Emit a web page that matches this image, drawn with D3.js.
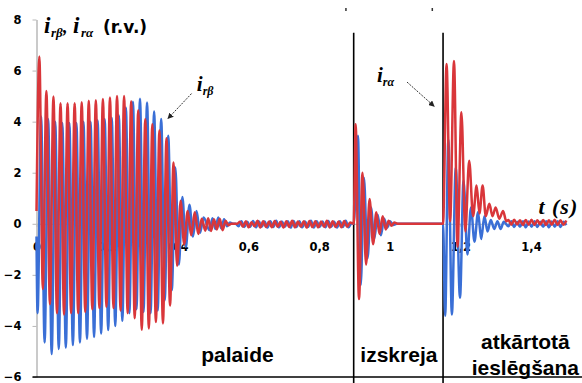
<!DOCTYPE html>
<html>
<head>
<meta charset="utf-8">
<script src="https://cdn.jsdelivr.net/npm/d3@7"></script>
<style>
  body { margin: 0; background: #fff; }
  .axis text { font-family: "DejaVu Sans", sans-serif; font-weight: bold; font-size: 11.5px; fill: #000; }
  .axis path, .axis line { stroke: #b8b8b8; }
  .region { font-family: "Liberation Sans", Arial, sans-serif; font-weight: bold; font-size: 21px; fill: #000; }
  .sym { font-family: "Liberation Serif", serif; font-style: italic; font-weight: bold; fill: #000; }
</style>
</head>
<body>
<div class="chart"></div>
<script>
// tick values
const xTicks = [0, 0.2, 0.4, 0.6, 0.8, 1, 1.2, 1.4];
const yTicks = [-6, -4, -2, 0, 2, 4, 6, 8];

// start-up: half-cycle extremes every 10 ms (red from 0.008 s, blue from 0.003 s)
const redSwing = [6.55, -2.55, 5.2, -3.15, 4.98, -3.5, 4.72, -3.55, 4.72, -3.5, 4.72, -3.5, 4.76, -3.45,
  4.82, -3.35, 4.84, -3.3, 4.89, -3.25, 4.95, -3.3, 5.0, -3.4, 5.0, -3.5, 4.8, -3.7, 4.45, -4.15,
  4.1, -4.1, 3.9, -3.85, 3.65, -3.9, 3.35, -3.2, 2.4, -1.65, 0.9, -0.8, 0.5, -0.45, 0.45, -0.4, 0.2, -0.27];
const blueSwing = [-3.5, 4.2, -4.65, 4.1, -5.1, 4.0, -4.9, 3.95, -4.85, 3.95, -4.75, 3.95, -4.65, 4.0,
  -4.5, 4.0, -4.43, 4.05, -4.3, 4.1, -4.16, 4.15, -4.0, 4.25, -3.8, 4.55, -3.5, 4.78, -3.35, 4.9,
  -3.45, 4.75, -3.5, 4.4, -3.4, 4.1, -3.0, 3.45, -2.6, 2.2, -1.6, 1.05, -0.9, 0.75, -0.5, 0.5, -0.35, 0.25];

// steady running ripple, extremes every 8.2 ms
const redRipple = [0.22, -0.28, 0.18, -0.22, 0.2, -0.25, 0.12, -0.06, 0.0, 0.0, 0.0, 0.08, -0.12, 0.1,
  -0.14, 0.06, -0.1, 0.12, -0.15, 0.1, -0.13, 0.09, -0.14, 0.11, -0.12, 0.08, -0.15, 0.1, -0.13, 0.12,
  -0.14, 0.09, -0.12, 0.1, -0.15, 0.11, -0.13, 0.1, -0.14, 0.09, -0.12, 0.12, -0.15, 0.1, -0.13, 0.09,
  -0.14, 0.11, -0.12, 0.05];
const blueRipple = [-0.25, 0.22, -0.2, 0.25, -0.18, 0.18, -0.1, 0.05, 0.0, 0.0, -0.1, 0.1, -0.13, 0.08,
  -0.12, 0.11, -0.14, 0.1, -0.12, 0.09, -0.15, 0.1, -0.13, 0.12, -0.14, 0.09, -0.12, 0.1, -0.15, 0.11,
  -0.13, 0.1, -0.14, 0.09, -0.12, 0.12, -0.15, 0.1, -0.13, 0.09, -0.14, 0.11, -0.12, 0.08, -0.15, 0.1,
  -0.13, 0.12, -0.14, 0.02];

// supply lost at 0.898 s: [t, i]
const redBurst1 = [[0.898, 0], [0.9035, 3.9], [0.913, -2.95], [0.923, 2.0], [0.933, -1.6], [0.943, 0.97],
  [0.953, -0.8], [0.962, 0.45], [0.971, -0.4], [0.98, 0.3], [0.989, -0.22], [0.997, 0.12], [1.005, -0.08],
  [1.013, 0.05], [1.022, 0], [1.151, 0]];
const blueBurst1 = [[0.898, 0], [0.91, 3.45], [0.918, -2.4], [0.927, 1.8], [0.937, -1.35], [0.947, 0.64],
  [0.956, -0.6], [0.966, 0.35], [0.975, -0.45], [0.984, 0.2], [0.993, -0.15], [1.001, 0.1], [1.01, -0.05],
  [1.02, 0], [1.151, 0]];

// reclosing at 1.151 s: [t, i]
const redBurst2 = [[1.161, 6.26], [1.171, 0.1], [1.182, 6.37], [1.192, -0.9], [1.203, 4.37], [1.214, -0.3],
  [1.225, 2.47], [1.236, 0.3], [1.246, 1.5], [1.254, 0.4], [1.263, 1.5], [1.272, 0.3], [1.282, 0.78],
  [1.291, 0.3], [1.3, 0.64], [1.31, 0.2], [1.321, 0.5], [1.33, 0.1]];
const blueBurst2 = [[1.157, -3.6], [1.166, 3.3], [1.176, -3.55], [1.187, 2.2], [1.199, -2.9], [1.209, 1.7],
  [1.22, -1.2], [1.23, 0.64], [1.24, -0.7], [1.25, 0.45], [1.259, -0.6], [1.268, 0.3], [1.277, -0.3],
  [1.286, 0.15], [1.296, -0.2], [1.305, 0.1], [1.314, -0.2], [1.323, 0.08]];

// ripple after reclosing, extremes every 8.2 ms from 1.336 s
const redTail = [0.15, -0.04, 0.16, -0.03, 0.14, -0.05, 0.15, -0.04, 0.16, -0.05, 0.14, -0.03, 0.15,
  -0.05, 0.14, -0.04, 0.16, -0.05, 0.14, -0.04, 0.13];
const blueTail = [-0.1, 0.1, -0.13, 0.08, -0.12, 0.1, -0.14, 0.09, -0.12, 0.1, -0.13, 0.08, -0.12, 0.1,
  -0.14, 0.09, -0.12, 0.1, -0.13, 0.08, -0.05];

// switching instants and region captions
const switchTimes = [0.898, 1.151];
const regions = [
  {lines: ["palaide"], t: 0.569, v: -5.4},
  {lines: ["izskreja"], t: 1.026, v: -5.4},
  {lines: ["atkārtotā", "ieslēgšana"], t: 1.384, v: -4.9}
];

const draw = () => {
    const width = 582, height = 383;
    const margin = {top: 19.5, left: 36.5};
    const plotW = 494.5, plotH = 357.5;

    let svg = d3.select('.chart').append('svg')
                .attr('width', width)
                .attr('height', height);

    let x = d3.scaleLinear().domain([0, 1.4]).range([margin.left, margin.left + plotW]);
    let y = d3.scaleLinear().domain([-6, 8]).range([margin.top + plotH, margin.top]);

    const comma = d3.formatLocale({decimal: ",", thousands: " ", grouping: [3], currency: ["", ""]}).format("~g");

    // sampled extremes -> [t, i]
    function steps(t0, dt, values) {
        return values.map((v, i) => [t0 + i * dt, v]);
    }

    const red = [[0, 0.5]].concat(steps(0.008, 0.01, redSwing), steps(0.486, 0.0082, redRipple),
                    redBurst1, redBurst2, steps(1.336, 0.0082, redTail));
    const blue = [[0, -0.5]].concat(steps(0.003, 0.01, blueSwing), steps(0.49, 0.0082, blueRipple),
                    blueBurst1, blueBurst2, steps(1.336, 0.0082, blueTail));

    //add the y Axis
    let yAxis = svg.append("g")
        .attr("class", "axis")
        .attr("transform", "translate(" + margin.left + ",0)")
        .call(d3.axisLeft(y).tickValues(yTicks).tickSize(4).tickSizeOuter(0).tickPadding(11));
    yAxis.select(".domain").attr("stroke-width", 1.5);

    //add the x Axis on the zero line
    svg.append("g")
        .attr("class", "axis")
        .attr("transform", "translate(0," + y(0) + ")")
        .call(d3.axisBottom(x).tickValues(xTicks).tickSize(3).tickSizeOuter(0).tickPadding(16).tickFormat(comma));

    // bottom border
    svg.append("line")
        .attr("x1", margin.left - 4).attr("x2", width)
        .attr("y1", y(-6)).attr("y2", y(-6))
        .attr("stroke", "#000").attr("stroke-width", 1.5);

    // switching instants
    svg.selectAll(".switch")
        .data(switchTimes)
        .enter().append("line")
        .attr("class", "switch")
        .attr("x1", d => x(d)).attr("x2", d => x(d))
        .attr("y1", y(7.48)).attr("y2", height)
        .attr("stroke", "#000").attr("stroke-width", 1.6);
    svg.selectAll(".tickmark")
        .data(switchTimes)
        .enter().append("rect")
        .attr("x", (d, i) => x(d) - (i ? 11.5 : 8.5)).attr("y", 8)
        .attr("width", 1.5).attr("height", 3)
        .attr("fill", "#333");

    let line = d3.line()
        .x(d => x(d[0]))
        .y(d => y(d[1]))
        .curve(d3.curveMonotoneX);

    svg.append("path")
        .datum(blue)
        .attr("fill", "none")
        .attr("stroke", "#3a6fd6")
        .attr("stroke-width", 2.5)
        .attr("d", line);

    svg.append("path")
        .datum(red)
        .attr("fill", "none")
        .attr("stroke", "#d9363a")
        .attr("stroke-width", 2.5)
        .attr("d", line);

    // axis title
    let title = svg.append("text").attr("y", 33);
    title.append("tspan").attr("class", "sym").attr("x", 44).style("font-size", "23px").text("i");
    title.append("tspan").attr("class", "sym").attr("x", 51).style("font-size", "13px").attr("dy", 4).text("rβ");
    title.append("tspan").attr("class", "sym").attr("x", 63).style("font-size", "18px").attr("dy", -4).text(",");
    title.append("tspan").attr("class", "sym").attr("x", 73).style("font-size", "23px").text("i");
    title.append("tspan").attr("class", "sym").attr("x", 81).style("font-size", "13px").attr("dy", 4).text("rα");
    title.append("tspan").attr("x", 103).attr("dy", -4)
        .style("font-family", "DejaVu Sans, sans-serif").style("font-weight", "bold").style("font-size", "17px")
        .text("(r.v.)");

    svg.append("text")
        .attr("class", "sym")
        .attr("x", x(1.421)).attr("y", y(0.4))
        .style("font-size", "22px")
        .style("letter-spacing", "1px")
        .text("t (s)");

    // series labels with arrows
    svg.append("defs").append("marker")
        .attr("id", "head")
        .attr("viewBox", "0 0 10 10")
        .attr("refX", 9).attr("refY", 5)
        .attr("markerWidth", 6).attr("markerHeight", 6)
        .attr("orient", "auto")
        .append("path").attr("d", "M0,0L10,5L0,10z").attr("fill", "#222");

    const notes = [
        {name: "rβ", t: 0.454, v: 5.2, from: [0.439, 5.1], to: [0.372, 4.12]},
        {name: "rα", t: 0.964, v: 5.55, from: [1.049, 5.55], to: [1.126, 4.6]}
    ];
    notes.forEach(n => {
        let lab = svg.append("text").attr("x", x(n.t)).attr("y", y(n.v));
        lab.append("tspan").attr("class", "sym").style("font-size", "21px").text("i");
        lab.append("tspan").attr("class", "sym").style("font-size", "12px").attr("dy", 4).text(n.name);
        svg.append("line")
            .attr("x1", x(n.from[0])).attr("y1", y(n.from[1]))
            .attr("x2", x(n.to[0])).attr("y2", y(n.to[1]))
            .attr("stroke", "#333").attr("stroke-width", 1)
            .attr("stroke-dasharray", "2,1.2")
            .attr("marker-end", "url(#head)");
    });

    // region captions
    regions.forEach(r => {
        let t = svg.append("text")
            .attr("class", "region")
            .attr("text-anchor", "middle")
            .attr("x", x(r.t)).attr("y", y(r.v));
        r.lines.forEach((s, i) => {
            t.append("tspan").attr("x", x(r.t)).attr("dy", i ? 26 : 0).text(s);
        });
    });
}

draw();
</script>
</body>
</html>
